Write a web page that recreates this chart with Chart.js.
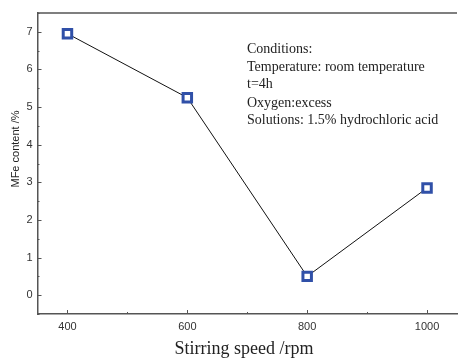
<!DOCTYPE html>
<html>
<head>
<meta charset="utf-8">
<script src="https://cdn.jsdelivr.net/npm/chart.js@4/dist/chart.umd.min.js"></script>
<style>
  html, body { margin: 0; padding: 0; background: #fff; overflow: hidden; }
  #wrap { width: 466px; height: 358px; }
</style>
</head>
<body>
<div id="wrap"><canvas id="speedChart"></canvas></div>
<script>
// stirring speed vs MFe content
const speeds = [400, 600, 800, 1000];
const mfeContent = [6.95, 5.25, 0.5, 2.85];
const xTicks = [400, 600, 800, 1000];
const xMinorTicks = [500, 700, 900];
const yTicks = [0, 1, 2, 3, 4, 5, 6, 7];
const yMinorTicks = [-0.5, 0.5, 1.5, 2.5, 3.5, 4.5, 5.5, 6.5, 7.5];
const notes = [
  'Conditions:',
  'Temperature: room temperature',
  't=4h',
  'Oxygen:excess',
  'Solutions: 1.5% hydrochloric acid'
];

const axisColor = '#555';

// frame, inward ticks, titles and the conditions note
const framePlugin = {
  id: 'frame',
  afterDraw(chart) {
    const { ctx, chartArea, scales } = chart;
    const x = scales.x, y = scales.y;
    ctx.save();
    ctx.strokeStyle = axisColor;
    ctx.lineWidth = 1.5;
    ctx.beginPath();
    ctx.moveTo(chartArea.left, chartArea.top);
    ctx.lineTo(chartArea.right, chartArea.top);
    ctx.stroke();

    ctx.lineWidth = 1;
    ctx.beginPath();
    xTicks.forEach(v => {
      const px = Math.round(x.getPixelForValue(v)) + 0.5;
      ctx.moveTo(px, chartArea.bottom);
      ctx.lineTo(px, chartArea.bottom - 4);
    });
    xMinorTicks.forEach(v => {
      const px = Math.round(x.getPixelForValue(v)) + 0.5;
      ctx.moveTo(px, chartArea.bottom);
      ctx.lineTo(px, chartArea.bottom - 2);
    });
    yTicks.forEach(v => {
      const py = Math.round(y.getPixelForValue(v)) + 0.5;
      ctx.moveTo(chartArea.left, py);
      ctx.lineTo(chartArea.left + 4, py);
    });
    yMinorTicks.forEach(v => {
      const py = Math.round(y.getPixelForValue(v)) + 0.5;
      ctx.moveTo(chartArea.left, py);
      ctx.lineTo(chartArea.left + 2, py);
    });
    ctx.stroke();

    ctx.fillStyle = '#222';
    ctx.font = '18px "Liberation Serif", "Times New Roman", serif';
    ctx.textAlign = 'center';
    ctx.textBaseline = 'middle';
    ctx.fillText('Stirring speed /rpm', 244, 349);

    ctx.save();
    ctx.translate(16, 149);
    ctx.rotate(-Math.PI / 2);
    ctx.font = '11px "Liberation Sans", Arial, sans-serif';
    ctx.fillText('MFe content /%', 0, 0);
    ctx.restore();

    ctx.font = '14px "Liberation Serif", "Times New Roman", serif';
    ctx.textAlign = 'left';
    const noteY = [49, 67, 84, 103, 120];
    notes.forEach((t, i) => ctx.fillText(t, 247, noteY[i]));
    ctx.restore();
  }
};

new Chart(document.getElementById('speedChart'), {
  type: 'line',
  data: {
    datasets: [{
      data: speeds.map((s, i) => ({ x: s, y: mfeContent[i] })),
      borderColor: '#111',
      borderWidth: 1,
      pointStyle: 'rect',
      pointRadius: 6,
      pointHoverRadius: 6,
      pointBorderWidth: 3,
      pointBorderColor: '#3050a8',
      pointBackgroundColor: '#fff',
      tension: 0
    }]
  },
  options: {
    responsive: true,
    maintainAspectRatio: false,
    animation: false,
    layout: { padding: { top: 13, right: 1.5, left: 0, bottom: 0 } },
    plugins: { legend: { display: false }, tooltip: { enabled: false } },
    scales: {
      x: {
        type: 'linear',
        min: 350,
        max: 1050,
        afterBuildTicks: s => { s.ticks = xTicks.map(v => ({ value: v })); },
        afterFit: s => { s.height = 44; },
        grid: { display: false, drawTicks: false },
        border: { display: true, color: axisColor, width: 1.5 },
        ticks: {
          padding: 6,
          color: '#333',
          callback: v => String(v),
          font: { family: '"Liberation Sans", Arial, sans-serif', size: 11 }
        }
      },
      y: {
        min: -0.5,
        max: 7.5,
        afterBuildTicks: s => { s.ticks = yTicks.map(v => ({ value: v })); },
        afterFit: s => { s.width = 37.5; },
        grid: { display: false, drawTicks: false },
        border: { display: true, color: axisColor, width: 1.5 },
        ticks: {
          padding: 5,
          color: '#333',
          font: { family: '"Liberation Sans", Arial, sans-serif', size: 11 }
        }
      }
    }
  },
  plugins: [framePlugin]
});
</script>
</body>
</html>
